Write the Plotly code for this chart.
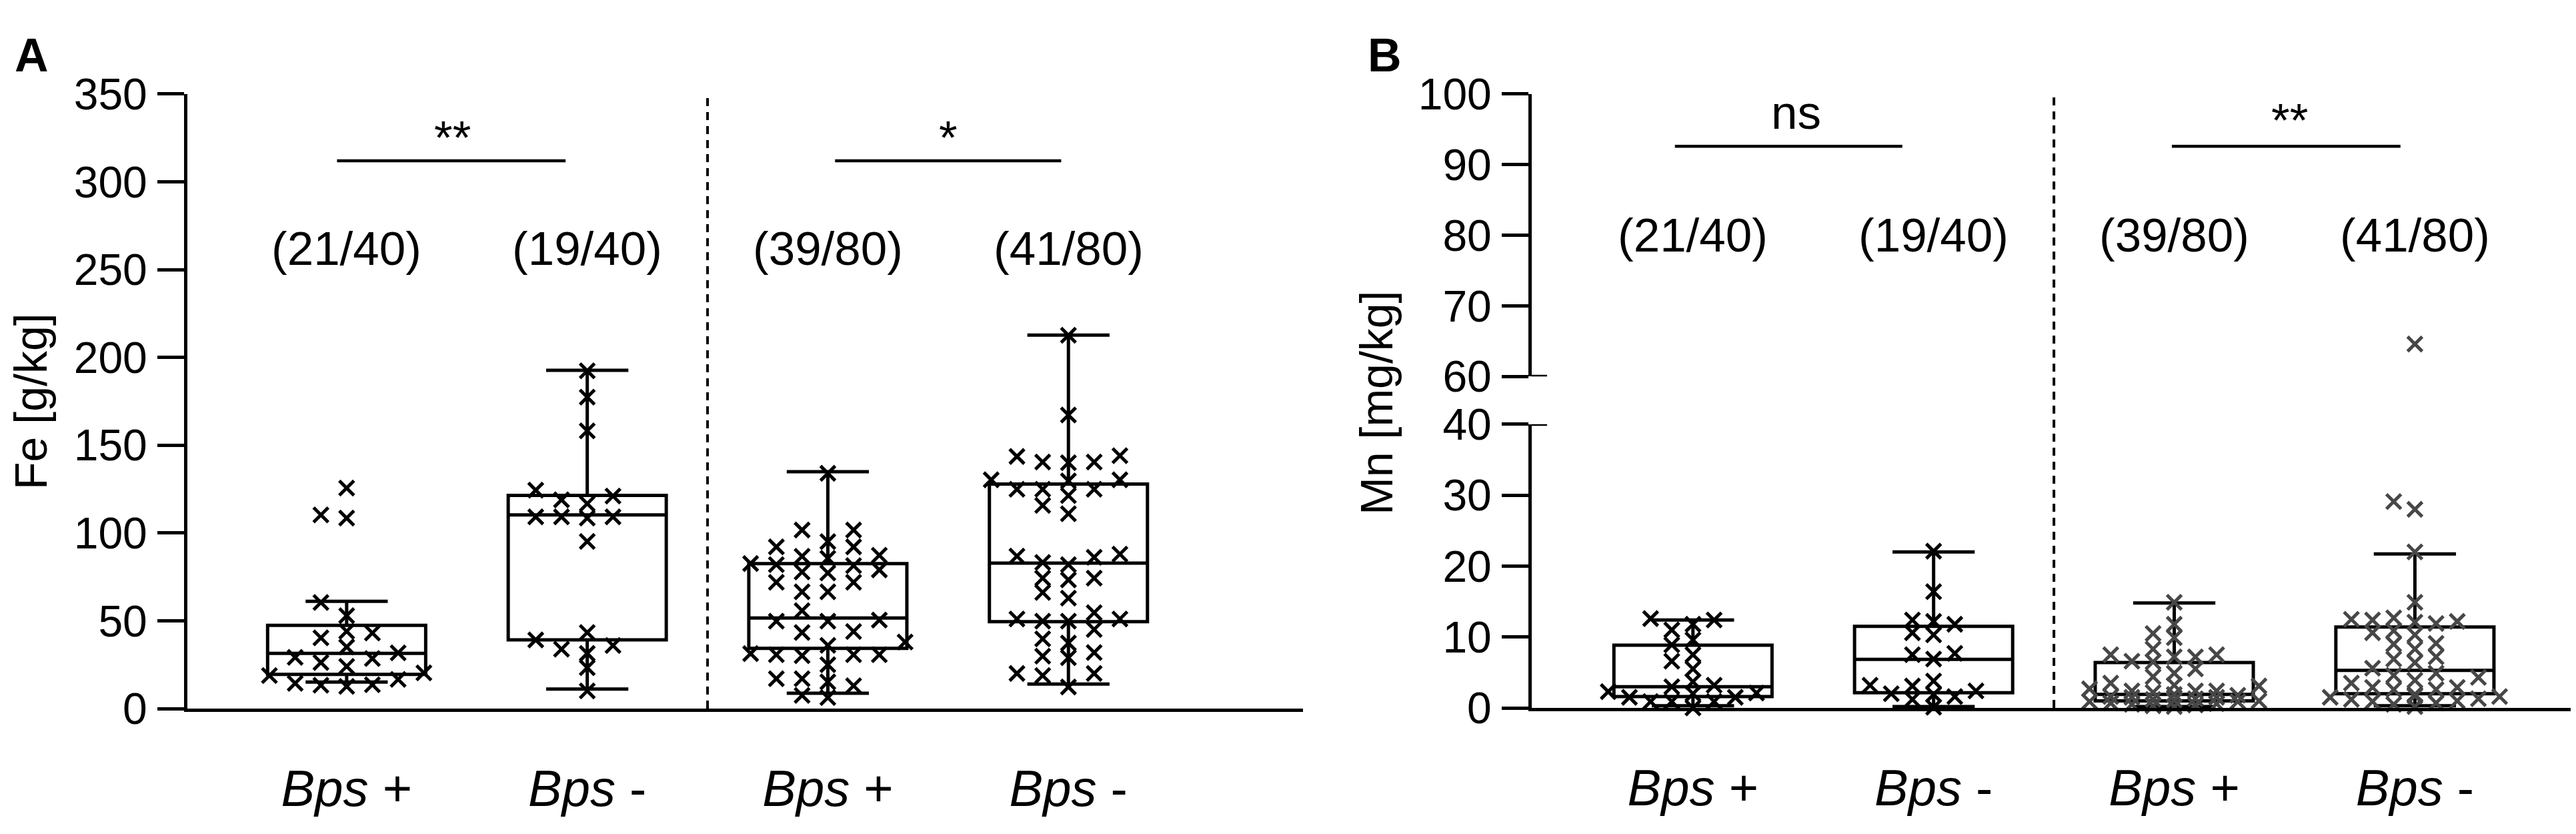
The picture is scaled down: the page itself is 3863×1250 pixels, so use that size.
import plotly.graph_objects as go

W, H = 3863, 1250
FONT = "Liberation Sans, Arial, sans-serif"

groups = [0, 1, 2, 3]
group_labels = ["<i>Bps</i> +", "<i>Bps</i> -", "<i>Bps</i> +", "<i>Bps</i> -"]
counts = ["(21/40)", "(19/40)", "(39/80)", "(41/80)"]

# Fe [g/kg], one list per group
fe_g1 = [125.6, 110.3, 108.5, 60.4, 52.9, 44.0, 43.0, 40.3, 35.1, 31.7, 29.2,
         28.5, 26.2, 24.0, 20.3, 18.8, 16.6, 14.4, 13.6, 13.3, 12.6]
fe_g2 = [192.4, 177.4, 158.2, 124.4, 121.0, 118.9, 116.7, 109.2, 108.5, 109.2,
         109.2, 95.2, 43.3, 39.1, 35.9, 33.8, 31.4, 23.3, 10.1]
fe_g3 = [134.0, 101.7, 101.7, 95.1, 92.1, 92.1, 87.3, 86.7, 85.6, 82.6, 82.0,
         81.4, 79.0, 77.8, 77.2, 71.9, 71.9, 66.5, 66.5, 55.8, 50.4, 49.8, 49.8,
         43.9, 43.3, 37.9, 36.0, 31.3, 30.7, 30.7, 30.7, 30.1, 25.0, 17.0, 17.0,
         15.2, 13.0, 7.5, 6.3]
fe_g4 = [212.6, 167.2, 144.0, 143.6, 140.4, 140.4, 140.0, 130.3, 130.3, 129.7,
         124.9, 124.9, 124.9, 121.3, 115.7, 111.0, 88.0, 86.8, 86.2, 83.2, 82.0,
         74.3, 74.3, 73.3, 66.1, 62.9, 54.6, 51.0, 51.0, 49.8, 49.8, 45.0, 39.7,
         37.3, 31.9, 29.8, 29.0, 20.0, 20.0, 18.8, 12.3]
fe_q1 = [19.5, 39.1, 34.3, 49.5]
fe_med = [31.4, 110.3, 51.6, 82.8]
fe_q3 = [47.4, 121.4, 82.6, 127.9]
fe_lo = [15.1, 11.1, 8.7, 14.0]
fe_hi = [61.1, 192.7, 134.9, 212.7]

# Mn [mg/kg]
mn_g1 = [12.6, 12.4, 11.8, 11.0, 9.6, 8.9, 7.5, 6.6, 5.5, 3.7, 3.2, 3.0, 2.3,
         2.1, 2.0, 1.5, 1.5, 0.9, 0.9, 0.9, 0.0]
mn_g2 = [22.1, 16.4, 12.4, 12.2, 11.8, 10.6, 10.3, 7.7, 7.5, 6.9, 3.8, 3.2,
         3.1, 2.4, 2.0, 1.9, 1.6, 1.2, 0.1]
mn_g3 = [14.9, 11.8, 10.5, 9.9, 8.3, 7.5, 7.5, 7.2, 7.2, 6.6, 6.5, 5.5, 4.9,
         4.4, 3.5, 3.2, 3.1, 2.7, 2.4, 2.4, 2.4, 2.2, 1.9, 1.8, 1.6, 1.5, 1.5,
         1.3, 1.2, 1.1, 1.0, 0.9, 0.9, 0.7, 0.6, 0.5, 0.4, 0.3, 0.2]
mn_g4 = [64.6, 29.1, 28.0, 22.0, 14.9, 12.7, 12.5, 12.4, 12.2, 12.1, 11.9,
         10.9, 10.6, 10.3, 9.1, 9.0, 8.3, 7.2, 6.9, 6.4, 5.6, 4.9, 4.6, 4.3, 3.9,
         3.5, 2.9, 2.9, 2.6, 2.6, 1.9, 1.7, 1.6, 1.5, 1.3, 1.2, 1.0, 0.9, 0.7,
         0.5, 0.2]
mn_q1 = [1.6, 2.15, 1.0, 2.0]
mn_med = [3.0, 6.85, 1.9, 5.3]
mn_q3 = [8.85, 11.5, 6.4, 11.4]
mn_lo = [0.3, 0.2, 0.2, 0.3]
mn_hi = [12.4, 22.0, 14.8, 21.7]


def swarm(vals, step, rowh, maxk):
    # greedy beeswarm: lowest values first, nearest free column to the centre
    cols = [0]
    for k in range(1, maxk + 1):
        cols += [-k, k]
    placed = []
    offs = [0.0] * len(vals)
    for i in sorted(range(len(vals)), key=lambda j: vals[j]):
        v = vals[i]
        best, best_hits = 0, None
        for c in cols:
            hits = sum(1 for pc, pv in placed if pc == c and abs(pv - v) < rowh)
            if hits == 0:
                best = c
                break
            if best_hits is None or hits < best_hits:
                best, best_hits = c, hits
        placed.append((best, v))
        offs[i] = best * step
    return offs


fig = go.Figure()

box_line = dict(color="black", width=5)
fig.add_trace(go.Box(x=groups, q1=fe_q1, median=fe_med, q3=fe_q3,
                     lowerfence=fe_lo, upperfence=fe_hi, width=0.657,
                     whiskerwidth=0.52, line=box_line, fillcolor="rgba(0,0,0,0)",
                     boxpoints=False, hoverinfo="skip", xaxis="x", yaxis="y"))
fig.add_trace(go.Box(x=groups, q1=mn_q1, median=mn_med, q3=mn_q3,
                     lowerfence=mn_lo, upperfence=mn_hi, width=0.657,
                     whiskerwidth=0.52, line=box_line, fillcolor="rgba(0,0,0,0)",
                     boxpoints=False, hoverinfo="skip", xaxis="x2", yaxis="y2"))


def add_points(g, vals, xa, color, step, rowh, maxk, split=None):
    offs = swarm(vals, step, rowh, maxk)
    xs = [g + o for o in offs]
    parts = [(xs, vals, "y" if xa == "x" else "y2")]
    if split is not None:
        lo = [(x, v) for x, v in zip(xs, vals) if v <= split]
        hi = [(x, v) for x, v in zip(xs, vals) if v > split]
        parts = [([p[0] for p in lo], [p[1] for p in lo], "y2"),
                 ([p[0] for p in hi], [p[1] for p in hi], "y3")]
    for px_, pv, ya in parts:
        fig.add_trace(go.Scatter(
            x=px_, y=pv, mode="markers", xaxis=xa, yaxis=ya, cliponaxis=False,
            hoverinfo="skip",
            marker=dict(symbol="x-thin", size=22, color=color,
                        line=dict(color=color, width=5))))


for g, vals in zip(groups, [fe_g1, fe_g2, fe_g3, fe_g4]):
    add_points(g, vals, "x", "black", 0.107, 8.0, 3)
mn_colors = ["black", "black", "#474747", "#474747"]
for g, vals, c in zip(groups, [mn_g1, mn_g2, mn_g3, mn_g4], mn_colors):
    add_points(g, vals, "x2", c, 0.088, 1.7, 4, split=50)


# pixel helpers for the panel frames
def px(x):
    return x / W


def py(y):
    return (H - y) / H


tickfont = dict(family=FONT, size=66, color="black")
common_y = dict(showline=True, linewidth=5, linecolor="black", ticks="outside",
                ticklen=40, tickwidth=5, tickcolor="black", showgrid=False,
                zeroline=False, tickfont=tickfont, ticklabelstandoff=2)
common_x = dict(showline=True, linewidth=5, linecolor="black", ticks="",
                showgrid=False, zeroline=False, tickvals=groups,
                ticktext=group_labels,
                tickfont=dict(family=FONT, size=76, color="black"),
                ticklabelstandoff=50)

fig.update_layout(
    width=W, height=H, margin=dict(l=0, r=0, t=0, b=0),
    paper_bgcolor="white", plot_bgcolor="white", showlegend=False,
    font=dict(family=FONT, color="black"),
    xaxis=dict(domain=[px(273), px(1946)], anchor="y", range=[-0.662, 3.975],
               **common_x),
    yaxis=dict(domain=[py(1081), py(102)], anchor="x", range=[0, 350],
               tickvals=list(range(0, 351, 50)), **common_y),
    xaxis2=dict(domain=[px(2289), px(3857)], anchor="y2", range=[-0.67, 3.675],
                **common_x),
    yaxis2=dict(domain=[py(1080), py(628)], anchor="x2", range=[0, 40],
                tickvals=[0, 10, 20, 30, 40], **common_y),
    yaxis3=dict(domain=[py(552), py(102)], anchor="x2", range=[60, 100],
                tickvals=[60, 70, 80, 90, 100], **common_y),
)

thin = dict(color="black", width=4.5)
shapes = [
    # dashed separators between the two cohorts
    dict(type="line", xref="x", yref="y", x0=1.5, x1=1.5, y0=0, y1=350,
         line=dict(color="black", width=4, dash="12px,9px")),
    dict(type="line", xref="x2", yref="paper", x0=1.5, x1=1.5,
         y0=py(1080), y1=py(102),
         line=dict(color="black", width=4, dash="12px,9px")),
    # axis break caps
    dict(type="line", xref="paper", yref="y2", x0=px(2289), x1=px(2312),
         y0=40, y1=40, line=dict(color="black", width=5)),
    dict(type="line", xref="paper", yref="y3", x0=px(2289), x1=px(2312),
         y0=60, y1=60, line=dict(color="black", width=5)),
    # significance bars
    dict(type="line", xref="x", yref="y", x0=-0.04, x1=0.91, y0=312, y1=312, line=thin),
    dict(type="line", xref="x", yref="y", x0=2.03, x1=2.97, y0=312, y1=312, line=thin),
    dict(type="line", xref="x2", yref="y3", x0=-0.075, x1=0.87, y0=92.6, y1=92.6, line=thin),
    dict(type="line", xref="x2", yref="y3", x0=1.99, x1=2.94, y0=92.6, y1=92.6, line=thin),
]
fig.update_layout(shapes=shapes)

txt = dict(family=FONT, size=71, color="black")
ann = []
for g, c in zip(groups, counts):
    ann.append(dict(x=g, y=262, xref="x", yref="y", text=c, showarrow=False,
                    font=txt, xanchor="center", yanchor="middle"))
    ann.append(dict(x=g, y=80, xref="x2", yref="y3", text=c, showarrow=False,
                    font=txt, xanchor="center", yanchor="middle"))
ann += [
    dict(x=0.44, y=325, xref="x", yref="y", text="**", showarrow=False, font=txt),
    dict(x=2.5, y=325, xref="x", yref="y", text="*", showarrow=False, font=txt),
    dict(x=0.43, y=97.4, xref="x2", yref="y3", text="ns", showarrow=False, font=txt),
    dict(x=2.48, y=96.3, xref="x2", yref="y3", text="**", showarrow=False, font=txt),
    dict(x=px(38), y=py(592), xref="paper", yref="paper", text="Fe [g/kg]",
         textangle=-90, xanchor="center", yanchor="middle", showarrow=False,
         font=dict(family=FONT, size=68)),
    dict(x=px(2056), y=py(594), xref="paper", yref="paper", text="Mn [mg/kg]",
         textangle=-90, xanchor="center", yanchor="middle", showarrow=False,
         font=dict(family=FONT, size=68)),
    dict(x=px(12), y=py(40), xref="paper", yref="paper", text="<b>A</b>",
         xanchor="left", yanchor="middle", showarrow=False,
         font=dict(family=FONT, size=70)),
    dict(x=px(2041), y=py(40), xref="paper", yref="paper", text="<b>B</b>",
         xanchor="left", yanchor="middle", showarrow=False,
         font=dict(family=FONT, size=70)),
]
fig.update_layout(annotations=ann)

fig.write_html("out.html")
